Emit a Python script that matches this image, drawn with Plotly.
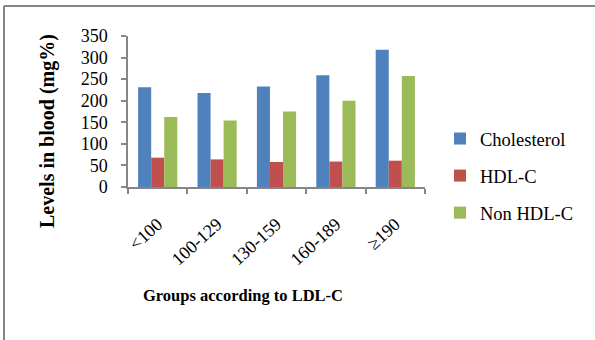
import plotly.graph_objects as go

# LDL-C groups and mean blood levels (mg%)
groups = ["<100", "100-129", "130-159", "160-189", "≥190"]
cholesterol = [231, 218, 233, 259, 318]
hdl_c = [68, 64, 58, 59, 61]
non_hdl_c = [162, 154, 175, 200, 257]

y_ticks = [0, 50, 100, 150, 200, 250, 300, 350]

FONT = "Liberation Serif"
AXIS_GRAY = "#868686"

W, H = 595, 340
L, R, T, B = 128, 170, 36, 153
pw, ph = W - L - R, H - T - B


def px_x(x):
    return (x - L) / pw


def px_y(y):
    return (H - B - y) / ph


fig = go.Figure()
series = [
    ("Cholesterol", cholesterol, "#4F81BD"),
    ("HDL-C", hdl_c, "#C0504D"),
    ("Non HDL-C", non_hdl_c, "#9BBB59"),
]
for name, vals, color in series:
    fig.add_trace(go.Bar(
        x=groups, y=vals, name=name, legendgroup=name,
        marker=dict(color=color, line=dict(width=0)),
    ))

fig.update_layout(
    width=W, height=H,
    margin=dict(l=L, r=R, t=T, b=B, pad=0),
    paper_bgcolor="white", plot_bgcolor="white",
    barmode="group", bargap=0.34, bargroupgap=0,
    font=dict(family=FONT, color="black"),
    showlegend=True,
    legend=dict(
        x=px_x(440), y=px_y(120), xanchor="left", yanchor="top",
        font=dict(size=18.5, family=FONT, color="black"), tracegroupgap=10,
        bgcolor="rgba(0,0,0,0)",
    ),
    xaxis=dict(
        type="category", tickson="boundaries", ticks="outside", ticklen=5,
        tickcolor=AXIS_GRAY, tickwidth=1.5, showline=True, linecolor=AXIS_GRAY,
        linewidth=1.5, showgrid=False, tickangle=-42, ticklabelstandoff=18,
        tickfont=dict(size=18, family=FONT, color="black"),
    ),
    yaxis=dict(
        range=[0, 350], tickvals=y_ticks, ticks="outside", ticklen=5,
        tickcolor=AXIS_GRAY, tickwidth=1.5, showline=True, linecolor=AXIS_GRAY,
        linewidth=1.5, showgrid=False, zeroline=False, ticklabelstandoff=10,
        tickfont=dict(size=18, family=FONT, color="black"),
    ),
    annotations=[
        dict(text="<b>Levels in blood (mg%)</b>", textangle=-90,
             x=px_x(47), y=px_y(131), xref="paper", yref="paper",
             xanchor="center", yanchor="middle", showarrow=False,
             font=dict(size=20, family=FONT, color="black")),
        dict(text="<b>Groups according to LDL-C</b>",
             x=px_x(243), y=px_y(295), xref="paper", yref="paper",
             xanchor="center", yanchor="middle", showarrow=False,
             font=dict(size=16.5, family=FONT, color="black")),
    ],
    shapes=[
        dict(type="line", xref="paper", yref="paper",
             x0=px_x(4), x1=px_x(W), y0=px_y(6), y1=px_y(6),
             line=dict(color=AXIS_GRAY, width=2)),
        dict(type="line", xref="paper", yref="paper",
             x0=px_x(4), x1=px_x(4), y0=px_y(6), y1=px_y(H),
             line=dict(color=AXIS_GRAY, width=2)),
    ],
)

fig.write_html("out.html")
